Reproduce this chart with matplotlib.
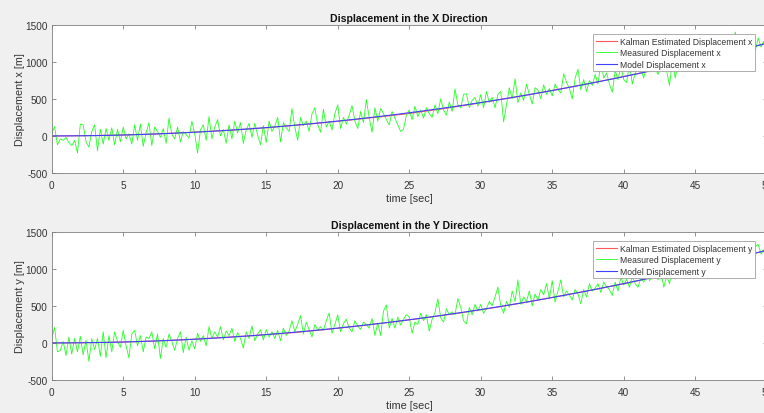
import numpy as np
import matplotlib
matplotlib.use('Agg')
import matplotlib.pyplot as plt

plt.rcParams['font.family'] = ['Liberation Sans', 'DejaVu Sans']
plt.rcParams['axes.unicode_minus'] = False

# time axes (measured samples every 0.2 s, model / Kalman read every 1 s)
t_meas = np.arange(251) * 0.2
t_model = np.arange(51) * 1.0

# model displacement (same curve in x and y)
model_x = [0, 0.5, 2, 4.5, 8, 12.5, 18, 24.5, 32, 40.5, 50, 60.5, 72, 84.5, 98,
           112.5, 128, 144.5, 162, 180.5, 200, 220.5, 242, 264.5, 288, 312.5,
           338, 364.5, 392, 420.5, 450, 480.5, 512, 544.5, 578, 612.5, 648,
           684.5, 722, 760.5, 800, 840.5, 882, 924.5, 968, 1012.5, 1058,
           1104.5, 1152, 1200.5, 1250]
model_y = list(model_x)

kalman_x = [0, 1, 3, 5, 9, 13, 19, 25, 33, 42, 52, 62, 72, 83, 96, 110, 126,
            143, 160, 179, 198, 217, 238, 258, 280, 303, 330, 357, 386, 416,
            447, 479, 511, 544, 578, 613, 649, 686, 723, 762, 801, 842, 884,
            926, 970, 1014, 1060, 1106, 1153, 1201, 1250]
kalman_y = [0, 1, 3, 5, 8, 12, 18, 25, 32, 41, 51, 62, 74, 86, 98, 111, 125,
            141, 159, 178, 198, 219, 241, 263, 287, 311, 336, 362, 389, 417,
            447, 478, 510, 543, 578, 614, 650, 686, 722, 760, 799, 840, 881,
            924, 968, 1013, 1058, 1104, 1152, 1201, 1250]

meas_x = [
    30, 126, -120, -40, -60,
    -20, -90, -130, -60, -230,
    160, 150, -80, -150, 60,
    150, -200, 90, -110, 100,
    -60, 110, -120, 90, -80,
    120, -40, 30, -110, 150,
    -60, 160, -140, 40, 180,
    -130, 120, 60, -20, 100,
    -100, 240, 20, -40, 120,
    -80, 60, 20, -30, 200,
    30, -230, 80, 150, -60,
    260, -40, 120, 220, 0,
    90, -100, 150, -40, 200,
    40, 180, -100, 80, 170,
    -20, 170, 10, -120, 140,
    -90, 200, 60, 130, 250,
    -80, 180, 110, 60, 370,
    120, -60, 250, 140, 200,
    60, 300, 380, 150, 50,
    360, 120, 200, 80, 300,
    420, 100, 250, 160, 280,
    410, 200, 100, 330, 180,
    490, 250, 50, 380, 200,
    370, 300, 220, 150, 330,
    240, 150, 60, 90, 280,
    350, 220, 400, 260, 350,
    240, 380, 300, 250, 420,
    300, 500, 350, 280, 460,
    330, 635, 420, 380, 560,
    570, 380, 480, 520, 400,
    560, 380, 600, 450, 520,
    380, 560, 600, 190, 420,
    650, 500, 770, 450, 580,
    480, 700, 560, 430, 650,
    620, 500, 690, 560, 640,
    540, 700, 620, 580, 838,
    720, 640, 500, 780, 900,
    620, 760, 600, 748, 680,
    830, 700, 995, 780, 850,
    700, 590, 880, 760, 940,
    760, 720, 980, 700, 850,
    940, 900, 780, 1000, 860,
    1070, 900, 830, 960, 1000,
    880, 680, 1020, 780, 960,
    1100, 900, 1050, 960, 1080,
    1000, 1150, 980, 1080, 1150,
    1050, 1200, 1100, 890, 1150,
    1250, 1100, 1200, 1150, 1400,
    1180, 1280, 1100, 1250, 1200,
    1300, 1150, 1320, 1200, 1280,
    1240]

meas_y = [
    50, 210, -120, -100, 20,
    -170, 80, -150, 60, -120,
    90, -160, 40, -250, 60,
    -90, 60, -180, 150, -200,
    100, -120, 150, 20, -60,
    170, -40, -200, 120, 170,
    -40, 100, -120, 80, 60,
    150, -80, 120, -210, 60,
    -60, 120, 20, -100, 60,
    150, -130, 80, -100, 30,
    -80, 130, 20, 100, -40,
    220, 60, 150, 80, 220,
    40, 160, 100, 200, 20,
    140, 60, -68, 150, 60,
    230, 30, 120, 180, 40,
    180, 80, 150, 60, 170,
    30, 200, 100, 160, 300,
    150, 250, 370, 120, 280,
    180, 80, 250, 170, 220,
    170, 300, 405, 130, 250,
    380, 150, 260, 320, 200,
    150, 300, 230, 180, 280,
    250, 200, 330, 100, 270,
    100, 430, 513, 200, 330,
    200, 350, 240, 320, 380,
    350, 130, 280, 250, 400,
    300, 380, 158, 320, 410,
    595, 340, 280, 460, 380,
    420, 380, 600, 480, 300,
    257, 480, 380, 520, 430,
    520, 400, 460, 560, 500,
    620, 752, 500, 400, 560,
    480, 700, 560, 850, 520,
    620, 560, 700, 500, 660,
    580, 720, 650, 800, 600,
    840, 550, 700, 850, 620,
    700, 640, 580, 720, 660,
    527, 720, 620, 800, 700,
    740, 800, 680, 820, 760,
    720, 640, 820, 700, 887,
    780, 860, 750, 900, 800,
    750, 880, 820, 950, 840,
    900, 1000, 850, 960, 752,
    900, 800, 1000, 860, 980,
    920, 1050, 940, 1000, 1080,
    1000, 1050, 980, 1100, 1030,
    1150, 1020, 1100, 1080, 1180,
    1120, 1200, 1150, 1230, 1160,
    1200, 1250, 1180, 1280, 1150,
    1230, 1300, 1330, 1200, 1260,
    1240]

panels = [
    ('x', 'X', kalman_x, meas_x, model_x),
    ('y', 'Y', kalman_y, meas_y, model_y),
]

fig = plt.figure(figsize=(7.64, 4.14), dpi=100, facecolor='#f0f0f0')
ax_rects = [[0.0677, 0.5797, 0.9359, 0.3582],
            [0.0677, 0.0797, 0.9359, 0.3582]]

axis_col = '#808080'
text_col = '#333333'

for rect, (c, C, kal, meas, mod) in zip(ax_rects, panels):
    ax = fig.add_axes(rect)
    ax.set_facecolor('white')
    ax.plot(t_model, kal, color='#ff5a5a', lw=0.8,
            label='Kalman Estimated Displacement ' + c)
    ax.plot(t_meas, meas, color='#20ff20', lw=0.6,
            label='Measured Displacement ' + c)
    ax.plot(t_model, mod, color='#4040ff', lw=0.8,
            label='Model Displacement ' + c)
    ax.set_xlim(0, 50)
    ax.set_ylim(-500, 1500)
    ax.set_xticks(np.arange(0, 51, 5))
    ax.set_yticks([-500, 0, 500, 1000, 1500])
    ax.tick_params(axis='both', direction='in', top=True, right=True,
                   length=3, width=0.6, colors=axis_col, labelcolor=text_col,
                   labelsize=7.2)
    ax.tick_params(axis='x', pad=5)
    ax.tick_params(axis='y', pad=3)
    for sp in ax.spines.values():
        sp.set_color(axis_col)
        sp.set_linewidth(0.6)
    ax.set_title('Displacement in the %s Direction' % C, fontsize=7.6,
                 fontweight='bold', color='#111111', pad=3)
    ax.set_xlabel('time [sec]', fontsize=7.8, color=text_col, labelpad=2)
    ax.set_ylabel('Displacement %s [m]' % c, fontsize=7.8, color=text_col,
                  labelpad=0)
    leg = ax.legend(loc='upper right', bbox_to_anchor=(0.9835, 0.9375),
                    borderaxespad=0, fontsize=6.2, fancybox=False,
                    framealpha=1, edgecolor='#a0a0a0', handlelength=2.5,
                    handletextpad=0.3, borderpad=0.3, labelspacing=0.3)
    leg.get_frame().set_linewidth(0.6)
    for txt in leg.get_texts():
        txt.set_color(text_col)

fig.savefig('out.png', dpi=100, facecolor=fig.get_facecolor())
